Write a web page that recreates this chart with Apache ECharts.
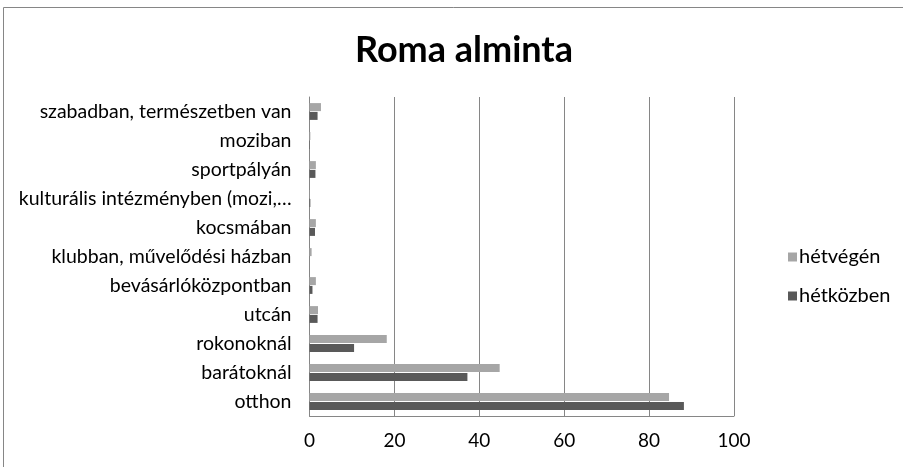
<!DOCTYPE html>
<html>
<head>
<meta charset="utf-8">
<script src="https://cdn.jsdelivr.net/npm/echarts@6/dist/echarts.min.js"></script>
<style>
  html, body { margin: 0; padding: 0; background: #fff; }
  #chart { width: 903px; height: 467px; }
</style>
</head>
<body>
<div id="chart"></div>
<script>
// kategóriák alulról felfelé
var categories = ['otthon', 'barátoknál', 'rokonoknál', 'utcán', 'bevásárlóközpontban',
  'klubban, művelődési házban', 'kocsmában', 'kulturális intézményben (mozi,…',
  'sportpályán', 'moziban', 'szabadban, természetben van'];
var hetkozben = [88.2, 37.2, 10.5, 1.9, 0.7, 0, 1.3, 0.2, 1.4, 0.1, 1.9];
var hetvegen = [84.7, 44.8, 18.2, 2.0, 1.5, 0.5, 1.5, 0.1, 1.5, 0.2, 2.7];
var xTicks = [0, 20, 40, 60, 80, 100];

var font = 'Lato';
var chart = echarts.init(document.getElementById('chart'));
chart.setOption({
  animation: false,
  title: {
    text: 'Roma alminta',
    left: 350,
    top: 27,
    textStyle: { fontFamily: font, fontSize: 36, fontWeight: 'bold', color: '#000' }
  },
  // keret a diagram körül
  graphic: [{
    type: 'rect',
    shape: { x: 3.5, y: 7.5, width: 1000, height: 1000 },
    style: { fill: 'none', stroke: '#868686', lineWidth: 1 }
  }],
  legend: {
    orient: 'vertical',
    left: 783,
    top: 242,
    itemWidth: 9,
    itemHeight: 9,
    itemGap: 19,
    icon: 'rect',
    data: ['hétvégén', 'hétközben'],
    textStyle: { fontFamily: font, fontSize: 20, color: '#000', padding: [0, 0, 0, -3] }
  },
  grid: { left: 309.5, right: 169, top: 97, bottom: 51, containLabel: false },
  xAxis: {
    type: 'value',
    min: xTicks[0],
    max: xTicks[xTicks.length - 1],
    interval: 20,
    axisLine: { show: true, lineStyle: { color: '#868686' } },
    axisTick: { show: false },
    splitLine: { show: true, lineStyle: { color: '#868686' } },
    axisLabel: { fontFamily: font, fontSize: 19, color: '#000', margin: 15 }
  },
  yAxis: {
    type: 'category',
    data: categories,
    axisLine: { show: true, lineStyle: { color: '#868686' } },
    axisTick: { show: false },
    axisLabel: { fontFamily: font, fontSize: 19.5, color: '#000', margin: 18 }
  },
  series: [{
    name: 'hétvégén',
    type: 'bar',
    data: hetvegen,
    barWidth: 8,
    barGap: '10%',
    itemStyle: { color: '#a6a6a6' }
  }, {
    name: 'hétközben',
    type: 'bar',
    data: hetkozben,
    barWidth: 8,
    itemStyle: { color: '#595959' }
  }]
});
</script>
</body>
</html>
